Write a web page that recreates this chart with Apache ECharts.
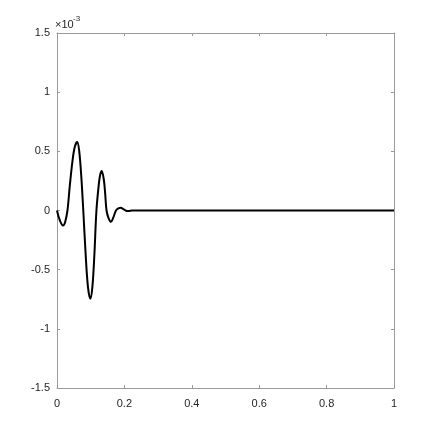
<!DOCTYPE html>
<html>
<head>
<meta charset="utf-8">
<script src="https://cdn.jsdelivr.net/npm/echarts@6/dist/echarts.min.js"></script>
<style>
  html, body { margin: 0; padding: 0; background: #fff; }
  #main { width: 436px; height: 436px; }
</style>
</head>
<body>
<div id="main"></div>
<script>
// signal (y in units of 1e-3)
var xs = [0, 0.008, 0.018, 0.024, 0.031, 0.038, 0.046, 0.053, 0.060, 0.066, 0.072, 0.078,
          0.085, 0.092, 0.099, 0.105, 0.111, 0.117, 0.124, 0.128, 0.1326, 0.139, 0.143, 0.147,
          0.153, 0.160, 0.167, 0.175, 0.182, 0.189, 0.197, 0.205, 0.212, 0.222, 0.235, 1.0];
var ys = [0, -0.08, -0.127, -0.10, 0, 0.21, 0.42, 0.54, 0.578, 0.50, 0.29, 0,
          -0.37, -0.65, -0.746, -0.646, -0.37, 0, 0.22, 0.30, 0.333, 0.26, 0.14, 0,
          -0.064, -0.096, -0.06, 0, 0.018, 0.023, 0.012, -0.002, -0.004, -0.001, 0, 0];
var xTicks = [0, 0.2, 0.4, 0.6, 0.8, 1];
var yTicks = [-1.5, -1, -0.5, 0, 0.5, 1, 1.5];

var chart = echarts.init(document.getElementById('main'));
var pts = [];
for (var i = 0; i < xs.length; i++) {
    pts.push([xs[i], ys[i]]);
}

var axisCol = '#9a9a9a';
var txtCol = '#262626';
var font = 'Liberation Sans';

function xAx(pos, showLabel) {
    return {
        type: 'value', position: pos, min: xTicks[0], max: xTicks[xTicks.length - 1], interval: 0.2,
        axisLine: { show: true, onZero: false, lineStyle: { color: axisCol, width: 1 } },
        axisTick: { show: true, inside: true, length: 3, lineStyle: { color: axisCol } },
        axisLabel: { show: showLabel, color: txtCol, fontFamily: font, fontSize: 11, margin: 10 },
        splitLine: { show: false }
    };
}
function yAx(pos, showLabel) {
    return {
        type: 'value', position: pos, min: yTicks[0], max: yTicks[yTicks.length - 1], interval: 0.5,
        axisLine: { show: true, onZero: false, lineStyle: { color: axisCol, width: 1 } },
        axisTick: { show: true, inside: true, length: 3, lineStyle: { color: axisCol } },
        axisLabel: { show: showLabel, color: txtCol, fontFamily: font, fontSize: 11, margin: 7 },
        splitLine: { show: false }
    };
}

var option = {
    animation: false,
    backgroundColor: '#fff',
    grid: { left: 57, right: 42, top: 33, bottom: 48 },
    xAxis: [xAx('bottom', true), xAx('top', false)],
    yAxis: [yAx('left', true), yAx('right', false)],
    graphic: [{
        type: 'text', left: 55, top: 19,
        style: { text: '×10', fill: txtCol, fontFamily: font, fontSize: 11 }
    }, {
        type: 'text', left: 73, top: 15,
        style: { text: '-3', fill: txtCol, fontFamily: font, fontSize: 8 }
    }],
    series: [{
        type: 'line',
        data: pts,
        showSymbol: false,
        smooth: 0.35,
        lineStyle: { color: '#000', width: 2 }
    }]
};
chart.setOption(option);
</script>
</body>
</html>
